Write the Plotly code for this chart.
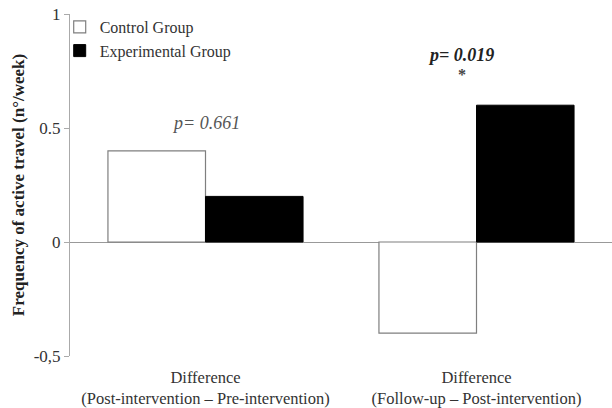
import plotly.graph_objects as go

categories = ["Difference<br>(Post-intervention – Pre-intervention)",
              "Difference<br>(Follow-up – Post-intervention)"]
control = [0.40, -0.40]
experimental = [0.20, 0.60]
tick_vals = [-0.5, 0, 0.5, 1]
tick_text = ["-0,5", "0", "0.5", "1"]

font = "Liberation Serif, Times New Roman, serif"

fig = go.Figure()
fig.add_trace(go.Bar(x=categories, y=control, name="Control Group",
                     marker=dict(color="white", line=dict(color="#7f7f7f", width=1.2))))
fig.add_trace(go.Bar(x=categories, y=experimental, name="Experimental Group",
                     marker=dict(color="black", line=dict(color="black", width=1))))

fig.add_annotation(x=categories[0], y=0.52, text="<i>p= 0.661</i>", showarrow=False,
                   font=dict(family=font, size=18, color="#555555"), xshift=0)
fig.add_annotation(x=categories[1], y=0.82, text="<b><i>p= 0.019</i></b>", showarrow=False,
                   font=dict(family=font, size=18, color="#222222"), xshift=-16)
fig.add_annotation(x=categories[1], y=0.735, text="<b>*</b>", showarrow=False,
                   font=dict(family=font, size=16, color="#444444"), xshift=-15)

fig.update_layout(
    width=612, height=408,
    margin=dict(l=70, r=0, t=14, b=52, autoexpand=False),
    paper_bgcolor="white", plot_bgcolor="white",
    barmode="group", bargap=0.28, bargroupgap=0,
    font=dict(family=font, size=16, color="#333333"),
    showlegend=True,
    legend=dict(x=-0.019, y=1.012, xanchor="left", yanchor="top",
                font=dict(family=font, size=16, color="#333333"),
                bgcolor="rgba(0,0,0,0)", itemwidth=30, tracegroupgap=0),
    xaxis=dict(showline=False, showgrid=False, ticks="outside", ticklen=6,
               tickcolor="white", automargin=False,
               tickfont=dict(family=font, size=16.5, color="#333333")),
    yaxis=dict(range=[-0.5, 1], tickvals=tick_vals, ticktext=tick_text,
               showline=True, linecolor="#aaaaaa", linewidth=1,
               ticks="outside", ticklen=5, tickcolor="#aaaaaa",
               showgrid=False, zeroline=True, zerolinecolor="#999999", zerolinewidth=1,
               ticklabeloverflow="allow",
               tickfont=dict(family=font, size=17, color="#333333"),
               title=dict(text="<b>Frequency of active travel (n°/week)</b>",
                          font=dict(family=font, size=17, color="#222222"), standoff=4)),
)

fig.write_html("out.html", config={"displayModeBar": False},
               post_script="document.body.style.margin='0px';")
